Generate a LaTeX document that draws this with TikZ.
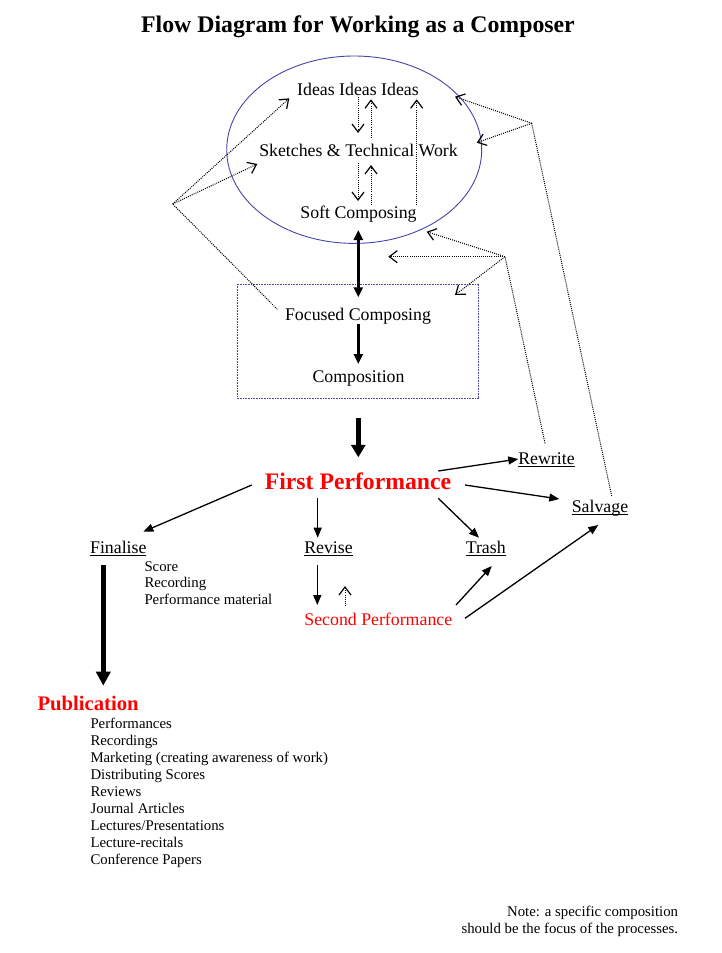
\documentclass[tikz,border=0pt]{standalone}
\usepackage{fontspec}
\setmainfont{Liberation Serif}
\usetikzlibrary{arrows.meta,calc}
\definecolor{grpblue}{RGB}{70,70,170}
\newcommand\ulw[1]{\setbox0\hbox{#1}\rlap{\rule[-2.6pt]{\wd0}{0.9pt}}\box0}
\begin{document}
\begin{tikzpicture}[x=1pt,y=-1pt,
  body/.style={font=\fontsize{17.8pt}{20pt}\selectfont, inner sep=0pt, anchor=base},
  small/.style={font=\fontsize{14.8pt}{17pt}\selectfont, inner sep=0pt},
  thin/.style={line width=1.3pt, -{Triangle[length=10pt,width=8pt]}},
  dotarr/.style={line width=1pt, dash pattern=on 1pt off 1.1pt, -{Straight Barb[length=8pt,width=12pt,line width=1.2pt]}},
  dotline/.style={line width=1pt, dash pattern=on 1pt off 1.1pt},
  grp/.style={draw=grpblue, line width=0.9pt}
]
\useasboundingbox (0,0) rectangle (722,953);
\fill[white] (0,0) rectangle (722,953);

% title
\node[body, font=\fontsize{23.8pt}{26pt}\selectfont\bfseries] (title) at (358,32) {Flow Diagram for Working as a Composer};

% group shapes
\draw[grp] (354.2,149.7) ellipse [x radius=127.5, y radius=93.7];
\draw[grp, dash pattern=on 1pt off 0.6pt] (237.3,284) rectangle (478.3,398.3);

% nodes
\node[body] (ideas) at (358,95) {Ideas Ideas Ideas};
\node[body] (sketches) at (358.5,156) {Sketches \& Technical Work};
\node[body] (soft) at (358.5,218) {Soft Composing};
\node[body] (focused) at (358,320) {Focused Composing};
\node[body] (composition) at (358.5,382) {Composition};
\node[body, font=\fontsize{23.7pt}{26pt}\selectfont\bfseries, text=red] (fp) at (358,489) {First Performance};
\node[body] (rewrite) at (546.5,464) {\ulw{Rewrite}};
\node[body] (salvage) at (600,512.5) {\ulw{Salvage}};
\node[body] (revise) at (328.5,553) {\ulw{Revise}};
\node[body] (trash) at (485.7,553) {\ulw{Trash}};
\node[body] (finalise) at (118.3,553) {\ulw{Finalise}};
\node[small, anchor=base west] (finlist) at (144.3,571) {\vtop{\baselineskip=16.7pt\hbox{Score}\hbox{Recording}\hbox{Performance material}}};
\node[body, text=red] (second) at (378.3,625) {Second Performance};
\node[body, anchor=base west, font=\fontsize{20.7pt}{23pt}\selectfont\bfseries, text=red] (publication) at (37.3,710) {Publication};
\node[small, anchor=base west] (publist) at (90.3,728.3) {\vtop{\baselineskip=17.08pt
  \hbox{Performances}\hbox{Recordings}\hbox{Marketing (creating awareness of work)}
  \hbox{Distributing Scores}\hbox{Reviews}\hbox{Journal Articles}
  \hbox{Lectures/Presentations}\hbox{Lecture-recitals}\hbox{Conference Papers}}};
\node[small, anchor=base east] (note) at (678.3,916.7) {\vtop{\baselineskip=16.6pt\halign{\hfil#\cr Note: a specific composition\cr should be the focus of the processes.\cr}}};

% fan points
\coordinate (L) at (172.7,204);
\coordinate (R1) at (531.7,123.3);
\coordinate (R2) at (505,256.7);

% dotted arrows inside ellipse
\draw[dotarr] ($(ideas.base)+(0,2)$) -- ($(sketches.base)+(-0.5,-23)$);
\draw[dotarr] ($(sketches.base)+(12.5,-18)$) -- ($(ideas.base)+(13,4.3)$);
\draw[dotarr] ($(sketches.base)+(-0.5,6.7)$) -- ($(soft.base)+(-0.5,-17)$);
\draw[dotarr] ($(soft.base)+(12.5,-13)$) -- ($(sketches.base)+(12.5,9)$);
\draw[dotarr] ($(soft.base)+(58.2,-13)$) -- ($(ideas.base)+(58.7,4.3)$);

% left fan
\draw[dotline] ($(focused.base)+(-80.7,-10.7)$) -- (L);
\draw[dotarr] (L) -- ($(ideas.base)+(-68.7,3.3)$);
\draw[dotarr] (L) -- ($(sketches.base)+(-101.2,8)$);

% right upper fan (from Salvage)
\draw[dotline] ($(salvage.base)+(11.7,-16.5)$) -- (R1);
\draw[dotarr] (R1) -- ($(ideas.base)+(97,1.7)$);
\draw[dotarr] (R1) -- ($(sketches.base)+(118.2,-13.3)$);

% right lower fan (from Rewrite)
\draw[dotline] ($(rewrite.base)+(-1.5,-20.7)$) -- (R2);
\draw[dotarr] (R2) -- ($(soft.base)+(68.2,13.7)$);
\draw[dotarr] (R2) -- ($(soft.base)+(29.8,38.7)$);
\draw[dotarr] (R2) -- ($(focused.base)+(97,-25)$);

% thick arrows
\draw[line width=2.5pt, {Triangle[length=10pt,width=9pt]}-{Triangle[length=10pt,width=9pt]}]
  ($(soft.base)+(-0.2,12)$) -- ($(focused.base)+(0.3,-22.7)$);
\draw[line width=2.5pt, -{Triangle[length=10pt,width=9pt]}]
  ($(focused.base)+(0.3,4)$) -- ($(composition.base)+(-0.2,-18)$);
\draw[line width=5pt, -{Triangle[length=12.5pt,width=14pt]}]
  ($(composition.base)+(-0.2,36.3)$) -- ($(fp.base)+(0.3,-31.7)$);
\draw[line width=5.2pt, -{Triangle[length=14pt,width=14pt]}]
  ($(finalise.base)+(-15,12)$) -- ($(publication.base west)+(66,-24.3)$);

% thin arrows from First Performance
\draw[thin] ($(fp.base)+(80.3,-18)$) -- ($(rewrite.base)+(-28.2,-5)$);
\draw[thin] ($(fp.base)+(107,-4)$) -- ($(salvage.base)+(-40.7,-13.5)$);
\draw[thin] ($(fp.base)+(80.3,9.3)$) -- ($(trash.base)+(-6.7,-15.3)$);
\draw[thin] ($(fp.base)+(-40.3,9.3)$) -- ($(revise.base)+(-10.8,-15.3)$);
\draw[thin] ($(fp.base)+(-106.3,-4)$) -- ($(finalise.base)+(25,-21.3)$);

% revise / second performance
\draw[thin] ($(revise.base)+(-11.2,12)$) -- ($(second.base)+(-61,-20)$);
\draw[dotarr] ($(second.base)+(-33.3,-19)$) -- ($(revise.base)+(16.5,33)$);
\draw[thin] ($(second.base)+(77.7,-20)$) -- ($(trash.base)+(6,13)$);
\draw[thin] ($(second.base)+(86.7,-6.7)$) -- ($(salvage.base)+(-1.7,12.5)$);
\end{tikzpicture}
\end{document}
